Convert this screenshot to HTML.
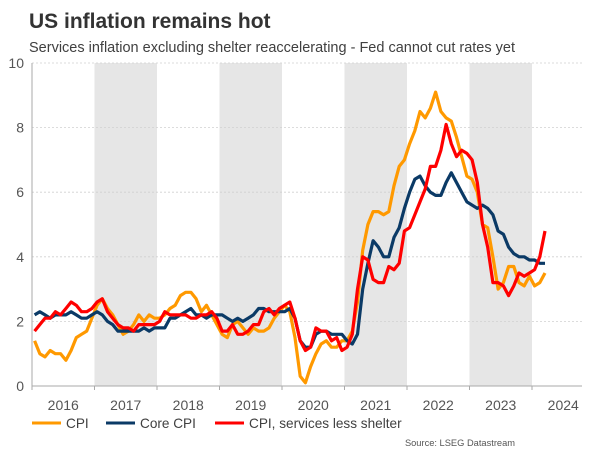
<!DOCTYPE html>
<html><head><meta charset="utf-8"><style>
body{margin:0;background:#fff;font-family:"Liberation Sans",Arial,sans-serif;}
svg text{font-family:"Liberation Sans",Arial,sans-serif;}
</style></head><body>
<svg id="chart" width="600" height="450" xmlns="http://www.w3.org/2000/svg">
<text x="29" y="28" font-size="21" font-weight="bold" fill="#333">US inflation remains hot</text>
<text x="29" y="52" font-size="14.5" fill="#404040">Services inflation excluding shelter reaccelerating - Fed cannot cut rates yet</text>
<g id="bands"></g><g id="grid"></g><g id="axes"></g><g id="lines"></g>
<g>
<line x1="32" y1="423" x2="61" y2="423" stroke="#ff9900" stroke-width="3"/>
<text x="66" y="428" font-size="13.6" fill="#404040">CPI</text>
<line x1="106" y1="423" x2="135" y2="423" stroke="#0b3a66" stroke-width="3"/>
<text x="140" y="428" font-size="13.6" fill="#404040">Core CPI</text>
<line x1="215" y1="423" x2="244" y2="423" stroke="#ff0000" stroke-width="3"/>
<text x="249" y="428" font-size="13.6" fill="#404040">CPI, services less shelter</text>
</g>
<text x="515" y="446" font-size="9.3" fill="#555" text-anchor="end">Source: LSEG Datastream</text>
</svg>
<script>
const years=["2016","2017","2018","2019","2020","2021","2022","2023","2024"];
const yTicks=[0,2,4,6,8,10];
const cpi=[1.4,1.0,0.9,1.1,1.0,1.0,0.8,1.1,1.5,1.6,1.7,2.1,
2.5,2.7,2.4,2.2,1.9,1.6,1.7,1.9,2.2,2.0,2.2,2.1,
2.1,2.2,2.4,2.5,2.8,2.9,2.9,2.7,2.3,2.5,2.2,1.9,
1.6,1.5,1.9,2.0,1.8,1.6,1.8,1.7,1.7,1.8,2.1,2.3,
2.5,2.3,1.5,0.3,0.1,0.6,1.0,1.3,1.4,1.2,1.2,1.4,
1.4,1.7,2.6,4.2,5.0,5.4,5.4,5.3,5.4,6.2,6.8,7.0,
7.5,7.9,8.5,8.3,8.6,9.1,8.5,8.3,8.2,7.7,7.1,6.5,
6.4,6.0,5.0,4.9,4.0,3.0,3.2,3.7,3.7,3.2,3.1,3.4,
3.1,3.2,3.5];
const core=[2.2,2.3,2.2,2.1,2.2,2.2,2.2,2.3,2.2,2.1,2.1,2.2,
2.3,2.2,2.0,1.9,1.7,1.7,1.7,1.7,1.7,1.8,1.7,1.8,
1.8,1.8,2.1,2.1,2.2,2.3,2.4,2.2,2.2,2.1,2.2,2.2,
2.2,2.1,2.0,2.1,2.0,2.1,2.2,2.4,2.4,2.3,2.3,2.3,
2.3,2.4,2.1,1.4,1.2,1.2,1.6,1.7,1.7,1.6,1.6,1.6,
1.4,1.3,1.6,3.0,3.8,4.5,4.3,4.0,4.0,4.6,4.9,5.5,
6.0,6.4,6.5,6.2,6.0,5.9,5.9,6.3,6.6,6.3,6.0,5.7,
5.6,5.5,5.6,5.5,5.3,4.8,4.7,4.3,4.1,4.0,4.0,3.9,
3.9,3.8,3.8];
const services=[1.7,1.9,2.1,2.1,2.3,2.2,2.4,2.6,2.5,2.3,2.3,2.4,
2.6,2.7,2.3,2.1,1.9,1.8,1.8,1.7,1.9,1.9,1.9,1.9,
2.0,2.3,2.2,2.2,2.2,2.2,2.1,2.1,2.2,2.2,2.3,2.1,
1.7,1.7,1.9,1.6,1.6,1.7,1.9,1.9,2.3,2.4,2.2,2.4,
2.5,2.6,2.1,1.4,1.1,1.2,1.8,1.7,1.7,1.4,1.5,1.1,
1.2,1.6,3.0,4.0,3.9,3.3,3.2,3.2,3.7,3.6,3.8,4.8,
4.9,5.3,5.7,6.1,6.8,6.8,7.3,8.1,7.5,7.1,7.3,7.2,
7.0,6.3,5.0,4.3,3.2,3.2,3.1,2.8,3.1,3.5,3.4,3.5,
3.6,4.0,4.8];
const NS="http://www.w3.org/2000/svg";
const X0=32,YW=62.5,Y0=386,PU=32.3,XR=582;
const xm=i=>X0+(i+0.5)*YW/12;
const xy=k=>X0+k*YW;
const y=v=>Y0-v*PU;
function mk(tag,attrs,parent){const e=document.createElementNS(NS,tag);for(const k in attrs)e.setAttribute(k,attrs[k]);document.getElementById(parent).appendChild(e);return e;}
years.forEach((yr,k)=>{
 if(k%2===1){const r=mk('rect',{x:xy(k),y:y(10),width:YW,height:Y0-y(10),fill:'#e6e6e6'},'bands');
 
 }
});
yTicks.forEach(t=>{
 if(t>0){const g=mk('line',{x1:X0,x2:XR,y1:y(t),y2:y(t),stroke:'#d0d0d0','stroke-dasharray':'2,2','stroke-width':0.8},'grid');
 
 }
 const l=mk('text',{x:24,y:y(t)+5,'font-size':14,fill:'#555','text-anchor':'end'},'axes');
 l.textContent=t;
 
 
});
const ax=mk('line',{x1:X0,x2:X0,y1:y(10),y2:Y0,stroke:'#aaa','stroke-width':1},'axes');


const bx=mk('line',{x1:X0,x2:XR,y1:Y0,y2:Y0,stroke:'#aaa','stroke-width':1},'axes');


years.forEach((yr,k)=>{
 const tk=mk('line',{x1:xy(k),x2:xy(k),y1:Y0,y2:Y0+4,stroke:'#aaa'},'axes');
 
 
 const t=mk('text',{x:xy(k)+YW/2,y:410,'font-size':14,fill:'#555','text-anchor':'middle'},'axes');
 t.textContent=yr;
 
 
});
function line(arr,color,name){
 const p=mk('polyline',{points:arr.map((v,i)=>xm(i).toFixed(1)+','+y(v).toFixed(1)).join(' '),fill:'none',stroke:color,'stroke-width':3.2,'stroke-linejoin':'round'},'lines');
 
 
}
line(cpi,'#ff9900','cpi-line');
line(core,'#0b3a66','core-cpi-line');
line(services,'#ff0000','services-less-shelter-line');
</script>
</body></html>
